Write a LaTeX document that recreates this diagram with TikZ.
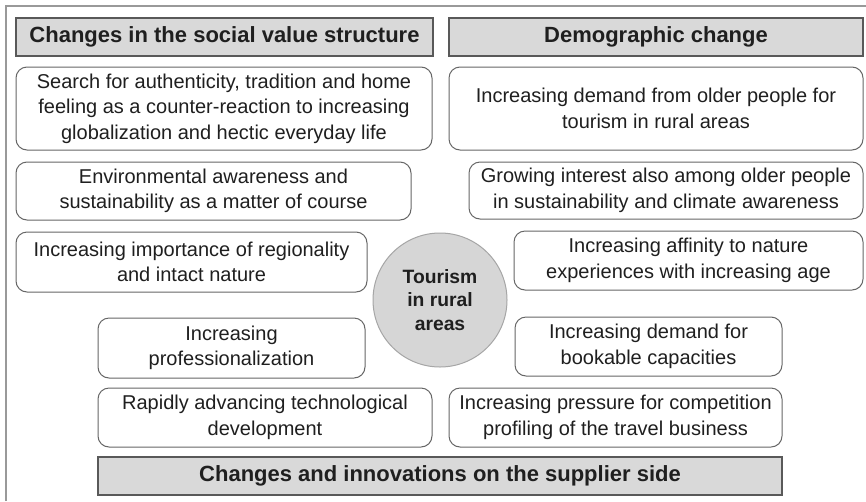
\documentclass[tikz,border=0pt]{standalone}
\usepackage{fontspec}
\setmainfont{Liberation Sans}
\begin{document}
\begin{tikzpicture}[x=1pt,y=-1pt,
  every node/.style={inner sep=0pt, outer sep=0pt, align=center, text=black!88, font=\fontsize{20}{25.5}\selectfont},
  header/.style={draw=black!65, line width=1.4pt, fill=black!15, font=\fontsize{22}{25}\selectfont\bfseries},
  item/.style={draw=black!60, line width=1pt, fill=white, rounded corners=11pt},
  hub/.style={circle, draw=black!35, line width=1pt, fill=black!16, font=\fontsize{19.3}{23.5}\selectfont\bfseries}]
  \useasboundingbox (0,0) rectangle (866,501);
  \fill[white] (0,0) rectangle (866,501);
  % frame
  \draw[black!40, line width=1.6pt] (6,501) -- (6,6) -- (866,6);

  % section headers
  \node[header, minimum width=417, minimum height=38] (hsoc) at (224.5,37) {Changes in the social value structure};
  \node[header, minimum width=414, minimum height=38] (hdem) at (656,37) {Demographic change};
  \node[header, minimum width=684, minimum height=38] (hsup) at (440,476) {Changes and innovations on the supplier side};

  % social value items
  \node[item, minimum width=416, minimum height=83] (s1) at (224,108.5) {Search for authenticity, tradition and home\\feeling as a counter-reaction to increasing\\globalization and hectic everyday life};
  \node[item, minimum width=395, minimum height=58] (s2) at (213.5,191) {Environmental awareness and\\sustainability as a matter of course};
  \node[item, minimum width=351, minimum height=60] (s3) at (191.5,262) {Increasing importance of regionality\\and intact nature};

  % demographic items
  \node[item, minimum width=414, minimum height=83] (d1) at (656,108.5) {Increasing demand from older people for\\tourism in rural areas};
  \node[item, minimum width=394, minimum height=57] (d2) at (666,190.5) {Growing interest also among older people\\in sustainability and climate awareness};
  \node[item, minimum width=349, minimum height=59] (d3) at (688.5,260.5) {Increasing affinity to nature\\experiences with increasing age};

  % supplier items
  \node[item, minimum width=267, minimum height=60] (p1) at (231.5,348) {Increasing\\professionalization};
  \node[item, minimum width=267, minimum height=59] (p2) at (648.5,346.5) {Increasing demand for\\bookable capacities};
  \node[item, minimum width=334, minimum height=59] (p3) at (265,417.5) {Rapidly advancing technological\\development};
  \node[item, minimum width=333, minimum height=59] (p4) at (615.5,417.5) {Increasing pressure for competition\\profiling of the travel business};

  % centre
  \node[hub, minimum size=134] (core) at (440,300) {Tourism\\in rural\\areas};
\end{tikzpicture}
\end{document}
